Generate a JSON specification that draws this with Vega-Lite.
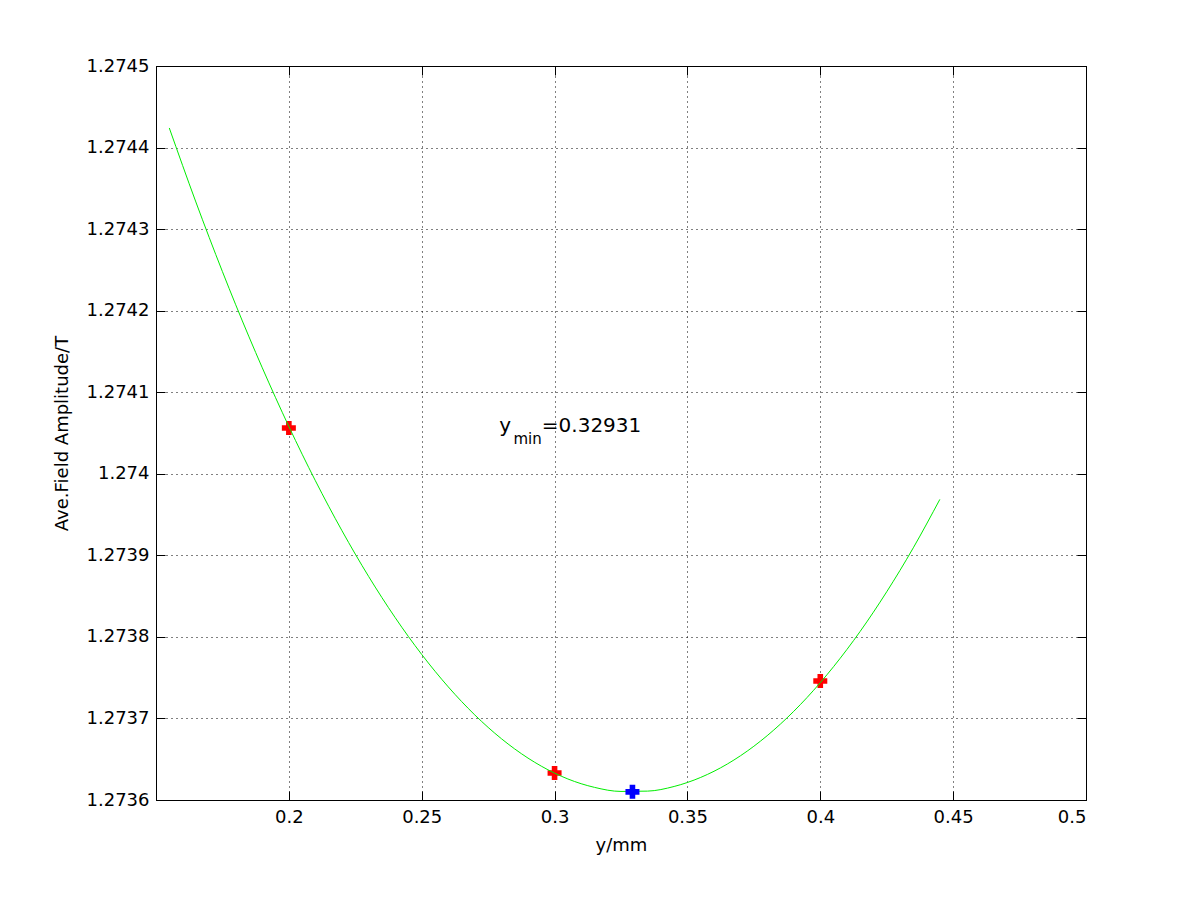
{
  "$schema": "https://vega.github.io/schema/vega-lite/v6.json",
  "autosize": "none",
  "width": 930,
  "height": 734,
  "padding": {"left": 156, "top": 66, "right": 114, "bottom": 100},
  "background": "white",
  "config": {
    "view": {"stroke": "black", "strokeWidth": 1},
    "font": "DejaVu Sans",
    "axis": {
      "labelFont": "DejaVu Sans",
      "labelFontSize": 18,
      "labelColor": "black",
      "titleFont": "DejaVu Sans",
      "titleFontSize": 18,
      "titleFontWeight": "normal",
      "titleColor": "black",
      "domainColor": "black",
      "tickColor": "black",
      "tickSize": -9,
      "gridColor": "black",
      "gridDash": [1, 4],
      "gridOpacity": 1
    }
  },
  "datasets": {
    "curve": [
      {"y": 0.155, "b": 1.2744240},
      {"y": 0.165, "b": 1.2743333},
      {"y": 0.175, "b": 1.2742479},
      {"y": 0.185, "b": 1.2741679},
      {"y": 0.195, "b": 1.2740933},
      {"y": 0.205, "b": 1.2740240},
      {"y": 0.215, "b": 1.2739601},
      {"y": 0.225, "b": 1.2739015},
      {"y": 0.235, "b": 1.2738483},
      {"y": 0.245, "b": 1.2738004},
      {"y": 0.255, "b": 1.2737579},
      {"y": 0.265, "b": 1.2737208},
      {"y": 0.275, "b": 1.2736890},
      {"y": 0.285, "b": 1.2736626},
      {"y": 0.295, "b": 1.2736415},
      {"y": 0.305, "b": 1.2736258},
      {"y": 0.315, "b": 1.2736155},
      {"y": 0.325, "b": 1.2736105},
      {"y": 0.335, "b": 1.2736109},
      {"y": 0.345, "b": 1.2736166},
      {"y": 0.355, "b": 1.2736277},
      {"y": 0.365, "b": 1.2736441},
      {"y": 0.375, "b": 1.2736659},
      {"y": 0.385, "b": 1.2736931},
      {"y": 0.395, "b": 1.2737256},
      {"y": 0.405, "b": 1.2737635},
      {"y": 0.415, "b": 1.2738067},
      {"y": 0.425, "b": 1.2738553},
      {"y": 0.435, "b": 1.2739092},
      {"y": 0.445, "b": 1.2739686}
    ],
    "samples": [
      {"y": 0.2, "b": 1.2740561},
      {"y": 0.3, "b": 1.2736331},
      {"y": 0.4, "b": 1.2737459}
    ],
    "minimum": [
      {"y": 0.32931, "b": 1.2736100}
    ],
    "labels": [
      {"y": 0.2792, "b": 1.274051, "t": "y", "part": "main"},
      {"y": 0.2845, "b": 1.274036, "t": "min", "part": "sub"},
      {"y": 0.2952, "b": 1.274051, "t": "=0.32931", "part": "main"}
    ]
  },
  "layer": [
    {
      "data": {"name": "samples"},
      "mark": {"type": "point", "shape": "cross", "filled": true, "size": 196, "color": "#ff0000", "opacity": 1},
      "encoding": {
        "x": {
          "field": "y",
          "type": "quantitative",
          "scale": {"domain": [0.15, 0.5], "nice": false, "zero": false},
          "axis": {
            "orient": "bottom",
            "title": "y/mm",
            "grid": true,
            "values": [0.2, 0.25, 0.3, 0.35, 0.4, 0.45, 0.5],
            "format": ".2~f",
            "labelPadding": 17,
            "titlePadding": 10
          }
        },
        "y": {
          "field": "b",
          "type": "quantitative",
          "scale": {"domain": [1.2736, 1.2745], "nice": false, "zero": false},
          "axis": {
            "orient": "left",
            "title": "Ave.Field Amplitude/T",
            "grid": true,
            "values": [1.2736, 1.2737, 1.2738, 1.2739, 1.274, 1.2741, 1.2742, 1.2743, 1.2744, 1.2745],
            "format": ".5~r",
            "labelPadding": 16,
            "titlePadding": 15
          }
        }
      }
    },
    {
      "data": {"name": "curve"},
      "mark": {"type": "line", "color": "#00ee00", "strokeWidth": 1, "interpolate": "monotone"},
      "encoding": {
        "x": {"field": "y", "type": "quantitative", "axis": null},
        "y": {"field": "b", "type": "quantitative", "axis": null}
      }
    },
    {
      "data": {"name": "minimum"},
      "mark": {"type": "point", "shape": "cross", "filled": true, "size": 196, "color": "#0000ff", "opacity": 1},
      "encoding": {
        "x": {
          "field": "y", "type": "quantitative",
          "axis": {"orient": "top", "title": null, "labels": false, "grid": false, "values": [0.2, 0.25, 0.3, 0.35, 0.4, 0.45, 0.5]}
        },
        "y": {
          "field": "b", "type": "quantitative",
          "axis": {"orient": "right", "title": null, "labels": false, "grid": false, "values": [1.2736, 1.2737, 1.2738, 1.2739, 1.274, 1.2741, 1.2742, 1.2743, 1.2744, 1.2745]}
        }
      }
    },
    {
      "data": {"name": "labels"},
      "transform": [{"filter": "datum.part == 'main'"}],
      "mark": {"type": "text", "align": "left", "baseline": "alphabetic", "fontSize": 20, "color": "black"},
      "encoding": {"text": {"field": "t"}, "x": {"field": "y", "type": "quantitative", "axis": null}, "y": {"field": "b", "type": "quantitative", "axis": null}}
    },
    {
      "data": {"name": "labels"},
      "transform": [{"filter": "datum.part == 'sub'"}],
      "mark": {"type": "text", "align": "left", "baseline": "alphabetic", "fontSize": 15, "color": "black"},
      "encoding": {"text": {"field": "t"}, "x": {"field": "y", "type": "quantitative", "axis": null}, "y": {"field": "b", "type": "quantitative", "axis": null}}
    }
  ],
  "resolve": {"axis": {"x": "independent", "y": "independent"}}
}
